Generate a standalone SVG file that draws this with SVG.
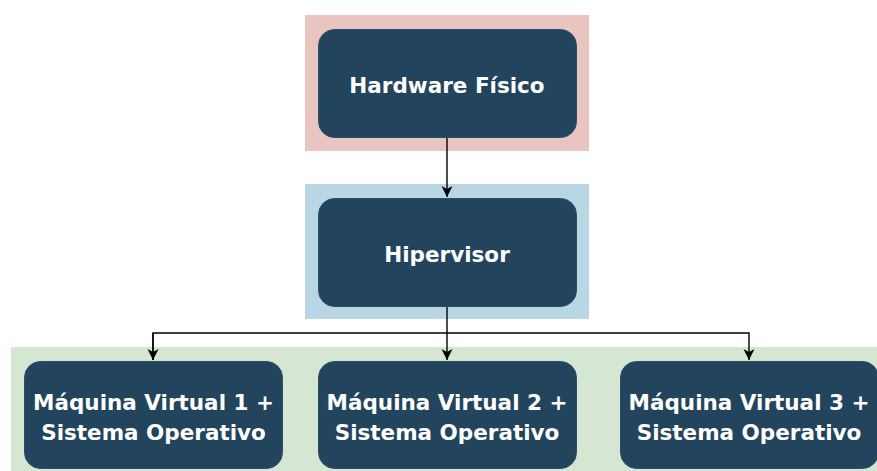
<svg xmlns="http://www.w3.org/2000/svg" width="877" height="471" viewBox="0 0 877 471">
<defs>
<marker id="arr" markerWidth="12" markerHeight="12" refX="11" refY="5.5" orient="auto" markerUnits="userSpaceOnUse">
<path d="M0,0 L11,5.5 L0,11 L3,5.5 Z" fill="#000"/>
</marker>
</defs>
<style>
.node{fill:#23445d;stroke:#2c4e66;stroke-width:1}
.lbl{fill:#fff;font-family:"DejaVu Sans",Verdana,sans-serif;font-weight:bold;font-size:21.5px;text-anchor:middle}
.edge{fill:none;stroke:#000;stroke-width:1.4}
</style>
<g id="backgrounds">
<rect x="305" y="15" width="284" height="136" fill="#e8c5c1"/>
<rect x="305" y="184" width="284" height="135" fill="#b8d6e3"/>
<rect x="11" y="347" width="866" height="124" fill="#d5e7d3"/>
</g>
<g id="connectors">
<path class="edge" d="M447,137 V197" marker-end="url(#arr)"/>
<path class="edge" d="M447,306 V360" marker-end="url(#arr)"/>
<path class="edge" d="M153,360 V333 H749 V360" marker-end="url(#arr)"/>
<path class="edge" d="M153,333 V360" marker-end="url(#arr)"/>
</g>
<g id="hardware">
<rect class="node" x="318.5" y="29.5" width="258" height="108" rx="16"/>
<text class="lbl" x="447" y="93">Hardware Físico</text>
</g>
<g id="hipervisor">
<rect class="node" x="318.5" y="198.5" width="258" height="108" rx="16"/>
<text class="lbl" x="447" y="262">Hipervisor</text>
</g>
<g id="vm1">
<rect class="node" x="24.5" y="361.5" width="258" height="107" rx="16"/>
<text class="lbl" x="153.5" y="410">Máquina Virtual 1 +</text>
<text class="lbl" x="153.5" y="440">Sistema Operativo</text>
</g>
<g id="vm2">
<rect class="node" x="318.5" y="361.5" width="258" height="107" rx="16"/>
<text class="lbl" x="447" y="410">Máquina Virtual 2 +</text>
<text class="lbl" x="447" y="440">Sistema Operativo</text>
</g>
<g id="vm3">
<rect class="node" x="620.5" y="361.5" width="258" height="107" rx="16"/>
<text class="lbl" x="749" y="410">Máquina Virtual 3 +</text>
<text class="lbl" x="749" y="440">Sistema Operativo</text>
</g>
</svg>
